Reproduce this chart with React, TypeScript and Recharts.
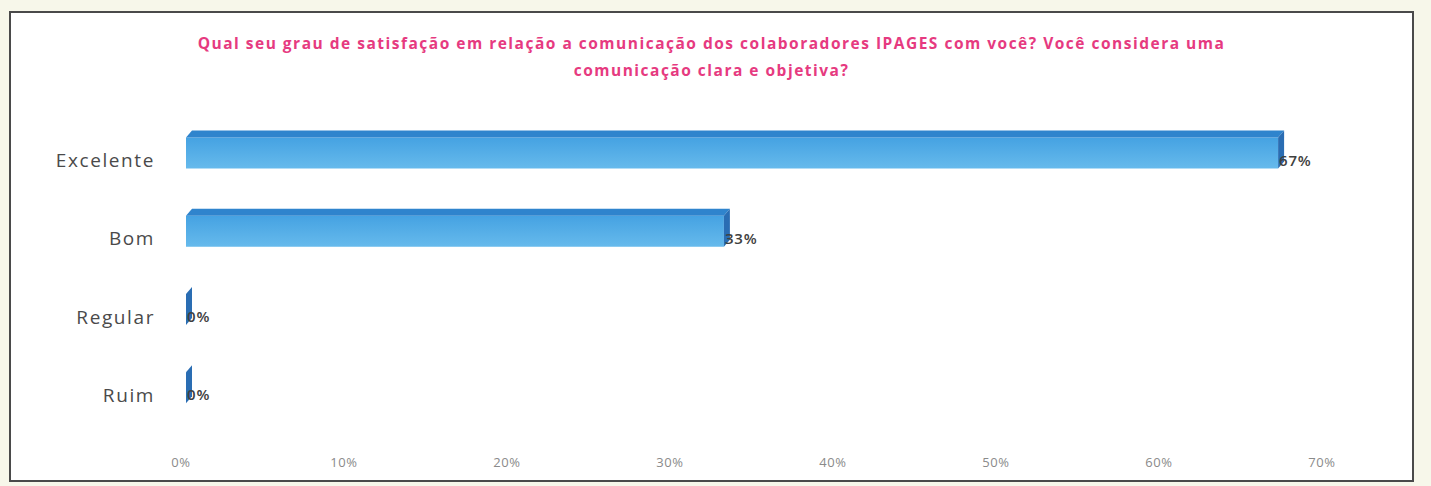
import React from 'react';
import { BarChart, Bar, XAxis, YAxis, LabelList } from 'recharts';

const categories = ['Excelente', 'Bom', 'Regular', 'Ruim'];
const percentages = [67, 33, 0, 0];
const xTicks = [0, 10, 20, 30, 40, 50, 60, 70];
const titleLine1 =
  'Qual seu grau de satisfação em relação a comunicação dos colaboradores IPAGES com você? Você considera uma';
const titleLine2 = 'comunicação clara e objetiva?';

const data = categories.map((name, i) => ({ name, value: percentages[i] }));

const SHIFT_X = 5;
const LIFT_Y = 7.5;
const DX = 6;
const DY = 7;

const Bar3D = (props: any) => {
  const { x, y, width, height, index } = props;
  const sx = x + SHIFT_X;
  const fy = y - LIFT_Y;
  const w = Math.max(width || 0, 0);
  const id = `frontGrad${index}`;
  return (
    <g>
      <defs>
        <linearGradient id={id} x1="0" y1="0" x2="0" y2="1">
          <stop offset="0%" stopColor="#45a2e2" />
          <stop offset="100%" stopColor="#66baec" />
        </linearGradient>
      </defs>
      <rect x={sx} y={fy} width={w} height={height} fill={`url(#${id})`} />
      <polygon
        points={`${sx},${fy} ${sx + DX},${fy - DY} ${sx + w + DX},${fy - DY} ${sx + w},${fy}`}
        fill="#2f84cd"
      />
      <polygon
        points={`${sx + w},${fy} ${sx + w + DX},${fy - DY} ${sx + w + DX},${fy + height - DY} ${sx + w},${fy + height}`}
        fill="#2a6db3"
      />
    </g>
  );
};

const ValueLabel = (props: any) => {
  const { x, y, width, height, value } = props;
  return (
    <text
      x={x + SHIFT_X + (width || 0) + 1}
      y={y + height / 2 + 5}
      fill="#404040"
      fontSize={15}
      fontWeight={600}
      letterSpacing={0.8}
      fontFamily="'Open Sans', sans-serif"
    >
      {`${value}%`}
    </text>
  );
};

const YTick = (props: any) => (
  <text
    x={144}
    y={props.y}
    dy={7}
    textAnchor="end"
    fill="#4a4a4a"
    fontSize={19}
    letterSpacing={1.6}
    fontFamily="'Open Sans', sans-serif"
  >
    {props.payload.value}
  </text>
);

const XTick = (props: any) => (
  <text
    x={props.x}
    y={454}
    textAnchor="middle"
    fill="#8a8a8a"
    fontSize={13}
    letterSpacing={0.6}
    fontFamily="'Open Sans', sans-serif"
  >
    {`${props.payload.value}%`}
  </text>
);

export default function App() {
  return (
    <div
      style={{
        position: 'fixed',
        left: 0,
        top: 0,
        width: 1431,
        height: 486,
        background: '#f7f7ea',
      }}
    >
      <div
        style={{
          position: 'absolute',
          left: 9,
          top: 11,
          width: 1401,
          height: 467,
          border: '2px solid #4a4a4a',
          background: '#ffffff',
        }}
      >
        <div
          style={{
            position: 'absolute',
            left: 0,
            top: 17,
            width: 1401,
            textAlign: 'center',
            color: '#e63a80',
            fontFamily: "'Open Sans', sans-serif",
            fontWeight: 'bold',
            fontSize: 15.5,
            letterSpacing: 1.5,
            lineHeight: '27px',
          }}
        >
          <div>{titleLine1}</div>
          <div>{titleLine2}</div>
        </div>
        <BarChart
          width={1401}
          height={467}
          data={data}
          layout="vertical"
          margin={{ top: 108, right: 90, bottom: 0, left: 0 }}
          style={{ position: 'absolute', left: 0, top: 0 }}
        >
          <XAxis
            type="number"
            domain={[0, 70]}
            ticks={xTicks}
            axisLine={false}
            tickLine={false}
            height={46}
            tick={<XTick />}
            interval={0}
          />
          <YAxis
            type="category"
            dataKey="name"
            width={170}
            axisLine={false}
            tickLine={false}
            tick={<YTick />}
          />
          <Bar dataKey="value" barSize={31} shape={<Bar3D />} isAnimationActive={false}>
            <LabelList dataKey="value" content={<ValueLabel />} />
          </Bar>
        </BarChart>
      </div>
    </div>
  );
}
